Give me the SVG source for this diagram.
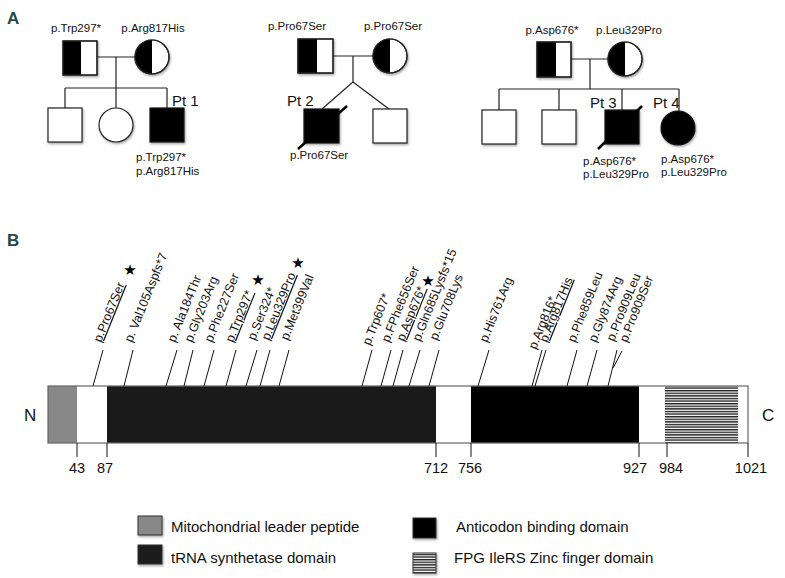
<svg xmlns="http://www.w3.org/2000/svg" width="785" height="578" viewBox="0 0 785 578">
<style>
.t{font-family:"Liberation Sans",Arial,sans-serif;fill:#111}
.ped{font-size:11.5px}
.pt{font-size:15px}
.mut{font-size:12.5px}
.num{font-size:14.5px}
.leg{font-size:15px}
.hdr{font-family:"Liberation Sans",Arial,sans-serif;font-weight:bold;font-size:17px;fill:#1d4a4c}
.ln{stroke:#222;stroke-width:1.2;fill:none}
.ml{stroke:#111;stroke-width:1;fill:none}
.sh{stroke:#222;stroke-width:1.2;fill:#fff}
.aff{stroke:#111;stroke-width:1.2;fill:#000}
.star{font-family:"DejaVu Sans",sans-serif;font-size:15px;fill:#000}
</style>
<defs>
<filter id="ds" x="-20%" y="-20%" width="150%" height="150%">
<feDropShadow dx="1" dy="1.5" stdDeviation="0.8" flood-color="#000" flood-opacity="0.35"/>
</filter>
<pattern id="stripes" x="0" y="0" width="4" height="2.6" patternUnits="userSpaceOnUse">
<rect x="0" y="0" width="4" height="2.6" fill="#fff"/>
<rect x="0" y="0" width="4" height="1.4" fill="#222"/>
</pattern>
</defs>
<rect width="785" height="578" fill="#fff"/>

<text class="hdr" x="7" y="24">A</text>
<text class="hdr" x="7" y="246">B</text>

<!-- pedigree connectors -->
<g id="pedigree-connectors">
<path class="ln" d="M97,57H135M116,57V88M65,88H167M65,88V108M116,88V108M167,88V108"/>
<path class="ln" d="M333,56H373M353,56V82L322,109M353,82L389,109"/>
<path class="ln" d="M571,59H608M590,59V89M499,89H679M499,89V110M559,89V110M622,89V110M679,89V111"/>
</g>

<!-- Family 1 -->
<g id="f1-father" filter="url(#ds)">
<rect class="sh" x="63" y="41" width="34" height="34"/>
<rect x="63" y="41" width="18" height="34" fill="#000"/>
<rect x="63" y="41" width="34" height="34" fill="none" stroke="#222" stroke-width="1.2"/>
</g>
<text class="t ped" x="76" y="32" text-anchor="middle">p.Trp297*</text>
<g id="f1-mother" filter="url(#ds)">
<circle class="sh" cx="152" cy="57" r="17"/>
<path d="M152,40A17,17 0 0 0 152,74Z" fill="#000"/>
<circle cx="152" cy="57" r="17" fill="none" stroke="#222" stroke-width="1.2"/>
</g>
<text class="t ped" x="153" y="32" text-anchor="middle">p.Arg817His</text>
<g id="f1-son1" filter="url(#ds)"><rect class="sh" x="48" y="108" width="34" height="34"/></g>
<g id="f1-daughter" filter="url(#ds)"><circle class="sh" cx="116" cy="125" r="17"/></g>
<g id="pt1">
<rect class="aff" x="150" y="108" width="34" height="34" filter="url(#ds)"/>
<text class="t pt" x="172" y="106">Pt 1</text>
<text class="t ped" x="136" y="161">p.Trp297*</text>
<text class="t ped" x="136" y="175">p.Arg817His</text>
</g>

<!-- Family 2 -->
<g id="f2-father" filter="url(#ds)">
<rect class="sh" x="298" y="39" width="35" height="34"/>
<rect x="298" y="39" width="19" height="34" fill="#000"/>
<rect x="298" y="39" width="35" height="34" fill="none" stroke="#222" stroke-width="1.2"/>
</g>
<text class="t ped" x="297" y="30" text-anchor="middle">p.Pro67Ser</text>
<g id="f2-mother" filter="url(#ds)">
<circle class="sh" cx="390" cy="56" r="17"/>
<path d="M390,39A17,17 0 0 0 390,73Z" fill="#000"/>
<circle cx="390" cy="56" r="17" fill="none" stroke="#222" stroke-width="1.2"/>
</g>
<text class="t ped" x="393" y="30" text-anchor="middle">p.Pro67Ser</text>
<g id="pt2">
<rect class="aff" x="304" y="109" width="35" height="34" filter="url(#ds)"/>
<line x1="298" y1="149" x2="347" y2="106" stroke="#000" stroke-width="2.5"/>
<text class="t pt" x="287" y="106">Pt 2</text>
<text class="t ped" x="290" y="159">p.Pro67Ser</text>
</g>
<g id="f2-son2" filter="url(#ds)"><rect class="sh" x="373" y="109" width="34" height="34"/></g>

<!-- Family 3 -->
<g id="f3-father" filter="url(#ds)">
<rect class="sh" x="537" y="42" width="34" height="35"/>
<rect x="537" y="42" width="19" height="35" fill="#000"/>
<rect x="537" y="42" width="34" height="35" fill="none" stroke="#222" stroke-width="1.2"/>
</g>
<text class="t ped" x="552" y="34" text-anchor="middle">p.Asp676*</text>
<g id="f3-mother" filter="url(#ds)">
<circle class="sh" cx="625" cy="59" r="17"/>
<path d="M625,42A17,17 0 0 0 625,76Z" fill="#000"/>
<circle cx="625" cy="59" r="17" fill="none" stroke="#222" stroke-width="1.2"/>
</g>
<text class="t ped" x="629" y="34" text-anchor="middle">p.Leu329Pro</text>
<g id="f3-son1" filter="url(#ds)"><rect class="sh" x="482" y="110" width="34" height="34"/></g>
<g id="f3-son2" filter="url(#ds)"><rect class="sh" x="542" y="110" width="34" height="34"/></g>
<g id="pt3">
<rect class="aff" x="605" y="110" width="34" height="34" filter="url(#ds)"/>
<line x1="598" y1="149" x2="642" y2="106" stroke="#000" stroke-width="2.5"/>
<text class="t pt" x="590" y="108">Pt 3</text>
<text class="t ped" x="583" y="165">p.Asp676*</text>
<text class="t ped" x="583" y="178">p.Leu329Pro</text>
</g>
<g id="pt4">
<circle class="aff" cx="678" cy="128" r="17" filter="url(#ds)"/>
<text class="t pt" x="653" y="108">Pt 4</text>
<text class="t ped" x="661" y="163">p.Asp676*</text>
<text class="t ped" x="661" y="176">p.Leu329Pro</text>
</g>

<!-- Protein bar -->
<g id="protein">
<rect x="48" y="386" width="700" height="57" fill="#fff"/>
<rect x="48" y="386" width="29" height="57" fill="#888"/>
<rect x="107" y="386" width="329" height="57" fill="#1a1a1a"/>
<rect x="471" y="386" width="168" height="57" fill="#000"/>
<rect x="665" y="386" width="73" height="57" fill="url(#stripes)"/>
<rect x="48" y="386" width="700" height="57" fill="none" stroke="#666" stroke-width="1.2"/>
<text class="t" x="24" y="421" font-size="17">N</text>
<text class="t" x="762" y="421" font-size="17">C</text>
</g>
<g id="ticks">
<path class="ml" d="M77,443V457M107,443V457M436,443V457M471,443V457M639,443V457M667,443V457M748,443V457"/>
<text class="t num" x="77" y="473" text-anchor="middle">43</text>
<text class="t num" x="105" y="473" text-anchor="middle">87</text>
<text class="t num" x="436" y="473" text-anchor="middle">712</text>
<text class="t num" x="470" y="473" text-anchor="middle">756</text>
<text class="t num" x="635" y="473" text-anchor="middle">927</text>
<text class="t num" x="671" y="473" text-anchor="middle">984</text>
<text class="t num" x="751" y="473" text-anchor="middle">1021</text>
</g>

<!-- mutation connectors -->
<g id="mutation-connectors">
<path class="ml" d="M93,386L103,350M124,386L133,350M166,386L177,350M184,386L193,350M204,386L214,350M226,386L236,350M246,386L257,350M260,386L270,350M279,386L289,350M362,386L372,350M381,386L391,350M393,386L403,350M409,386L420,350M429,386L439,350M478,386L489,350M532,386L542,350M535,386L546,350M567,386L577,350M587,386L597,350M608,386L617,350M613,368L622,351"/>
</g>
<g id="mutation-labels">
<text class="t mut" transform="translate(101,343) rotate(-68)" text-decoration="underline">p.Pro67Ser</text>
<text class="t mut" transform="translate(132,343) rotate(-68)">p. Val105Aspfs*7</text>
<text class="t mut" transform="translate(175,343) rotate(-68)">p. Ala184Thr</text>
<text class="t mut" transform="translate(192,343) rotate(-68)">p.Gly203Arg</text>
<text class="t mut" transform="translate(212,343) rotate(-68)">p.Phe227Ser</text>
<text class="t mut" transform="translate(233,343) rotate(-68)" text-decoration="underline">p.Trp297*</text>
<text class="t mut" transform="translate(255,341) rotate(-68)">p.Ser324*</text>
<text class="t mut" transform="translate(269,341) rotate(-68)" text-decoration="underline">p.Leu329Pro</text>
<text class="t mut" transform="translate(288,341) rotate(-68)">p.Met399Val</text>
<text class="t mut" transform="translate(370,346) rotate(-68)">p.Trp607*</text>
<text class="t mut" transform="translate(389,343) rotate(-68)">p.FPhe656Ser</text>
<text class="t mut" transform="translate(404,342) rotate(-68)" text-decoration="underline">p.Asp676*</text>
<text class="t mut" transform="translate(420,342) rotate(-68)">p.Gln685Lysfs*15</text>
<text class="t mut" transform="translate(437,341) rotate(-68)">p.Glu708Lys</text>
<text class="t mut" transform="translate(487,343) rotate(-68)">p.His761Arg</text>
<text class="t mut" transform="translate(536,350) rotate(-68)">p.Arg816*</text>
<text class="t mut" transform="translate(547,343) rotate(-68)" text-decoration="underline">p.Arg817His</text>
<text class="t mut" transform="translate(575,343) rotate(-68)">p.Phe859Leu</text>
<text class="t mut" transform="translate(596,343) rotate(-68)">p.Gly874Arg</text>
<text class="t mut" transform="translate(614,342) rotate(-68)">p.Pro909Leu</text>
<text class="t mut" transform="translate(627,343) rotate(-68)">p.Pro909Ser</text>
<text class="star" x="130" y="275" text-anchor="middle">★</text>
<text class="star" x="258" y="285" text-anchor="middle">★</text>
<text class="star" x="298" y="268" text-anchor="middle">★</text>
<text class="star" x="428" y="286" text-anchor="middle">★</text>
</g>

<!-- Legend -->
<g id="legend">
<g filter="url(#ds)">
<rect x="138" y="516" width="24" height="19" fill="#888" stroke="#333" stroke-width="1"/>
<rect x="138" y="545" width="24" height="19" fill="#1a1a1a" stroke="#333" stroke-width="1"/>
<rect x="413" y="518" width="23" height="20" fill="#000" stroke="#333" stroke-width="1"/>
<rect x="413" y="553" width="23" height="20" fill="url(#stripes)" stroke="#333" stroke-width="1"/>
</g>
<text class="t leg" x="171" y="532">Mitochondrial leader peptide</text>
<text class="t leg" x="171" y="563">tRNA synthetase domain</text>
<text class="t leg" x="456" y="532">Anticodon binding domain</text>
<text class="t leg" x="454" y="563">FPG IleRS Zinc finger domain</text>
</g>
</svg>
